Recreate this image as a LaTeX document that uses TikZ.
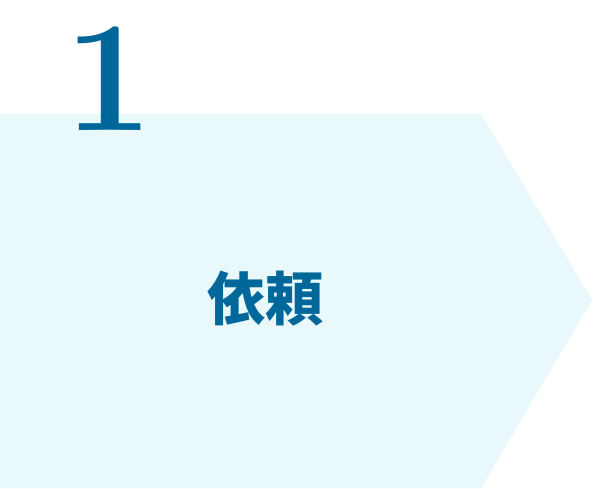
\documentclass[tikz,border=0pt]{standalone}
\usepackage{fontspec}
\newfontfamily\cjk{Noto Sans CJK JP}
\usepackage{tikz}
\usetikzlibrary{positioning}
\definecolor{stepblue}{HTML}{00679A}
\definecolor{steppale}{HTML}{E8F8FB}
\tikzset{
  stepnum/.style={text=stepblue,inner sep=0pt,font=\bfseries\fontsize{158}{160}\selectfont},
  steplabel/.style={text=stepblue,inner sep=0pt,font=\cjk\bfseries\fontsize{58}{60}\selectfont}
}

\begin{document}
\begin{tikzpicture}[x=1pt,y=-1pt]
  \useasboundingbox (0,0) rectangle (594,488);
  % arrow shaped panel
  \fill [steppale] (0,114) -- (481,114) -- (592,300) -- (481,488) -- (0,488) -- cycle;
  \node [stepnum,anchor=south] (num) at (109,131) {1};
  \node [steplabel] (task) at (265,299) {依頼};
\end{tikzpicture}
\end{document}
